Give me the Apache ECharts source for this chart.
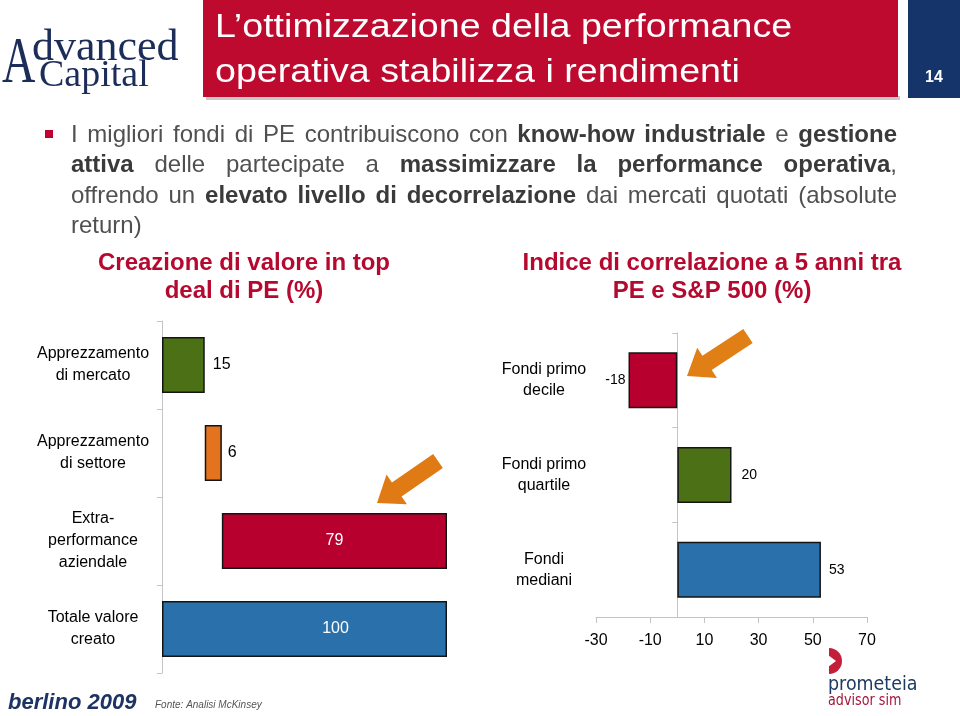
<!DOCTYPE html>
<html><head><meta charset="utf-8">
<script src="https://cdn.jsdelivr.net/npm/echarts@6/dist/echarts.min.js"></script>
<style>html,body{margin:0;padding:0;background:#fff}#c{width:960px;height:716px}</style>
</head><body><div id="c"></div>
<script>
// ---------- data ----------
const leftCategories = ['Apprezzamento\ndi mercato', 'Apprezzamento\ndi settore', 'Extra-\nperformance\naziendale', 'Totale valore\ncreato'];
const leftValues = [15, 6, 79, 100];
const rightCategories = ['Fondi primo\ndecile', 'Fondi primo\nquartile', 'Fondi\nmediani'];
const rightValues = [-18, 20, 53];
const rightAxisMin = -30, rightAxisMax = 70, rightAxisStep = 20;
const titleLines = ['L\u2019ottimizzazione della performance', 'operativa stabilizza i rendimenti'];
const pageNumber = '14';
const bulletLines = [
  'I migliori fondi di PE contribuiscono con *know-how industriale* e *gestione*',
  '*attiva* delle partecipate a *massimizzare la performance operativa*,',
  'offrendo un *elevato livello di decorrelazione* dai mercati quotati (absolute'
];
const bulletLastLine = 'return)';
const leftSubtitle = ['Creazione di valore in top', 'deal di PE (%)'];
const rightSubtitle = ['Indice di correlazione a 5 anni tra', 'PE e S&P 500 (%)'];
const footerSource = 'Fonte: Analisi McKinsey';
const footerEvent = 'berlino 2009';

// ---------- styles ----------
const FONT = "'Liberation Sans', Arial, Helvetica, sans-serif";
const leftColors = ['#4c7015', '#e3731e', '#b8002e', '#2a70aa'];
const rightColors = ['#b8002e', '#4c7015', '#2a70aa'];
const RED = '#bf0a30', NAVY = '#15346a', SUBRED = '#b5092f';

// waterfall bases derived from the values
const lastIdx = leftValues.length - 1;
const leftBase = leftValues.map((v, i) => i === lastIdx ? 0 : leftValues.slice(0, i).reduce((a, b) => a + b, 0));

// ---------- text layout helpers ----------
const mctx = document.createElement('canvas').getContext('2d');
function fontStr(bold, size) { return (bold ? 'bold ' : '') + size + 'px ' + FONT; }
function measure(t, bold, size) { mctx.font = fontStr(bold, size); return mctx.measureText(t).width; }
function parseLine(s) {
  let bold = false; const words = [];
  s.split(' ').forEach(w => {
    const parts = []; let cur = '';
    for (const ch of w) {
      if (ch === '*') { if (cur) parts.push([cur, bold]); cur = ''; bold = !bold; }
      else cur += ch;
    }
    if (cur) parts.push([cur, bold]);
    words.push(parts);
  });
  return words;
}
const graphics = [];
function justifyLine(s, x0, x1, y, size) {
  const words = parseLine(s);
  const widths = words.map(p => p.reduce((a, q) => a + measure(q[0], q[1], size), 0));
  const total = widths.reduce((a, b) => a + b, 0);
  const gap = (x1 - x0 - total) / (words.length - 1);
  let x = x0;
  words.forEach((parts, i) => {
    let xx = x;
    parts.forEach(q => {
      graphics.push({ type: 'text', x: xx, y: y, z: 50, style: { text: q[0], font: fontStr(q[1], size), fill: q[1] ? '#3a3a3a' : '#505050', verticalAlign: 'middle' } });
      xx += measure(q[0], q[1], size);
    });
    x += widths[i] + gap;
  });
}
function arrowPoints(tail, tip, shaftW, headW, headL) {
  const dx = tip[0] - tail[0], dy = tip[1] - tail[1]; const L = Math.hypot(dx, dy);
  const ux = dx / L, uy = dy / L, px = -uy, py = ux;
  const bx = tip[0] - ux * headL, by = tip[1] - uy * headL;
  return [[tail[0] + px * shaftW / 2, tail[1] + py * shaftW / 2], [bx + px * shaftW / 2, by + py * shaftW / 2],
    [bx + px * headW / 2, by + py * headW / 2], tip, [bx - px * headW / 2, by - py * headW / 2],
    [bx - px * shaftW / 2, by - py * shaftW / 2], [tail[0] - px * shaftW / 2, tail[1] - py * shaftW / 2]];
}

// ---------- decorations ----------
graphics.push({ type: 'rect', shape: { x: 206, y: 96, width: 694, height: 4 }, style: { fill: '#c9c9c9' }, z: 1 });
graphics.push({ type: 'rect', shape: { x: 203, y: 0, width: 695, height: 97 }, style: { fill: RED }, z: 2 });
graphics.push({ type: 'rect', shape: { x: 908, y: 0, width: 52, height: 98 }, style: { fill: NAVY }, z: 2 });
graphics.push({ type: 'text', x: 215, y: 28, z: 3, scaleX: 1.14, style: { text: titleLines[0], font: '33px ' + FONT, fill: '#fff', verticalAlign: 'middle' } });
graphics.push({ type: 'text', x: 215, y: 73, z: 3, scaleX: 1.14, style: { text: titleLines[1], font: '33px ' + FONT, fill: '#fff', verticalAlign: 'middle' } });
graphics.push({ type: 'text', x: 934, y: 78, z: 3, style: { text: pageNumber, font: 'bold 16px ' + FONT, fill: '#fff', align: 'center', verticalAlign: 'middle' } });

// Advanced Capital logo
graphics.push({ type: 'text', x: 2, y: 98, z: 3, scaleX: 0.7, style: { text: 'A', font: '66px "Liberation Serif", serif', fill: '#1c2d5a', verticalAlign: 'bottom' } });
graphics.push({ type: 'text', x: 32, y: 70, z: 3, style: { text: 'dvanced', font: '44px "Liberation Serif", serif', fill: '#1c2d5a', verticalAlign: 'bottom' } });
graphics.push({ type: 'text', x: 39, y: 95, z: 3, style: { text: 'Capital', font: '38px "Liberation Serif", serif', fill: '#1c2d5a', verticalAlign: 'bottom' } });

// bullet
graphics.push({ type: 'rect', shape: { x: 45, y: 130, width: 8, height: 8 }, style: { fill: '#c00030' }, z: 3 });
bulletLines.forEach((s, i) => justifyLine(s, 71, 897, 135 + i * 30.6, 24));
graphics.push({ type: 'text', x: 71, y: 135 + 3 * 30.6, z: 50, style: { text: bulletLastLine, font: '24px ' + FONT, fill: '#505050', verticalAlign: 'middle' } });

// subtitles
leftSubtitle.forEach((t, i) => graphics.push({ type: 'text', x: 244, y: 263 + i * 28.5, z: 3, style: { text: t, font: 'bold 24px ' + FONT, fill: SUBRED, align: 'center', verticalAlign: 'middle' } }));
rightSubtitle.forEach((t, i) => graphics.push({ type: 'text', x: 712, y: 263 + i * 28.5, z: 3, style: { text: t, font: 'bold 24px ' + FONT, fill: SUBRED, align: 'center', verticalAlign: 'middle' } }));

// arrows
graphics.push({ type: 'polygon', z: 100, shape: { points: arrowPoints([438, 461], [377, 503], 17, 36, 24) }, style: { fill: '#e07a14' } });
graphics.push({ type: 'polygon', z: 100, shape: { points: arrowPoints([748, 336], [687, 376], 17, 36, 24) }, style: { fill: '#e07f16' } });

// footer
graphics.push({ type: 'text', x: 8, y: 703, z: 3, style: { text: footerEvent, font: 'italic bold 22px ' + FONT, fill: '#1d3363', verticalAlign: 'middle' } });
graphics.push({ type: 'text', x: 155, y: 705, z: 3, style: { text: footerSource, font: 'italic 10px ' + FONT, fill: '#555', verticalAlign: 'middle' } });
// prometeia logo
graphics.push({ type: 'sector', z: 3, shape: { cx: 829, cy: 661, r0: 0, r: 13, startAngle: -Math.PI / 2, endAngle: Math.PI / 2 }, style: { fill: '#c41e3a' } });
graphics.push({ type: 'polygon', z: 4, shape: { points: [[828, 655], [836, 661], [828, 667]] }, style: { fill: '#fff' } });
graphics.push({ type: 'text', x: 828, y: 685, z: 3, scaleX: 0.92, style: { text: 'prometeia', font: '19px "DejaVu Sans", sans-serif', fill: '#1c3a64', verticalAlign: 'middle' } });
graphics.push({ type: 'text', x: 828, y: 701, z: 3, scaleX: 0.85, style: { text: 'advisor sim', font: '15px "DejaVu Sans", sans-serif', fill: '#a5173a', verticalAlign: 'middle' } });

// ---------- chart ----------
const chart = echarts.init(document.getElementById('c'));
const axisGray = '#c4c4c4';
const leftLabelCfg = [
  { position: 'right', distance: 8, color: '#000' },
  { position: 'right', distance: 6, color: '#000' },
  { position: 'inside', color: '#fff' },
  { position: 'inside', color: '#fff', offset: [31, 0] }
];
const rightLabelCfg = [
  { position: 'left', distance: 3 },
  { position: 'right', distance: 10 },
  { position: 'right', distance: 8 }
];
const option = {
  animation: false,
  backgroundColor: '#fff',
  textStyle: { fontFamily: FONT },
  graphic: graphics,
  grid: [
    { left: 162, top: 321, width: 285, height: 352, containLabel: false },
    { left: 596, top: 333, width: 271, height: 284, containLabel: false }
  ],
  xAxis: [
    { gridIndex: 0, type: 'value', min: 0, max: 100, show: false },
    { gridIndex: 1, type: 'value', min: rightAxisMin, max: rightAxisMax, interval: rightAxisStep,
      axisLine: { show: true, onZero: false, lineStyle: { color: axisGray } },
      axisTick: { show: true, length: 6, lineStyle: { color: axisGray } },
      splitLine: { show: false },
      axisLabel: { color: '#000', fontSize: 16, margin: 16, fontFamily: FONT } }
  ],
  yAxis: [
    { gridIndex: 0, type: 'category', inverse: true, data: leftCategories,
      axisLine: { show: true, onZero: false, lineStyle: { color: axisGray } },
      axisTick: { show: true, length: 5, lineStyle: { color: axisGray } },
      axisLabel: { color: '#000', fontSize: 16, lineHeight: 22, align: 'center', margin: 69, fontFamily: FONT } },
    { gridIndex: 1, type: 'category', inverse: true, data: rightCategories, position: 'left',
      axisLine: { show: false, onZero: false }, axisTick: { show: false },
      axisLabel: { color: '#000', fontSize: 16, lineHeight: 21, align: 'center', margin: 52, fontFamily: FONT } },
    { gridIndex: 1, type: 'category', inverse: true, data: rightCategories, position: 'left',
      axisLine: { show: true, onZero: true, lineStyle: { color: axisGray } },
      axisTick: { show: true, length: 5, lineStyle: { color: axisGray } },
      axisLabel: { show: false } }
  ],
  series: [
    { type: 'bar', xAxisIndex: 0, yAxisIndex: 0, stack: 'wf', barWidth: 56, silent: true,
      itemStyle: { color: 'rgba(0,0,0,0)', borderWidth: 0 }, data: leftBase },
    { type: 'bar', xAxisIndex: 0, yAxisIndex: 0, stack: 'wf', barWidth: 56,
      data: leftValues.map((v, i) => ({
        value: v,
        itemStyle: { color: leftColors[i], borderColor: '#141414', borderWidth: 1.5 },
        label: Object.assign({ show: true, fontSize: 16, fontFamily: FONT }, leftLabelCfg[i])
      })) },
    { type: 'bar', xAxisIndex: 1, yAxisIndex: 1, barWidth: 56,
      data: rightValues.map((v, i) => ({
        value: v,
        itemStyle: { color: rightColors[i], borderColor: '#141414', borderWidth: 1.5 },
        label: Object.assign({ show: true, fontSize: 14, color: '#000', fontFamily: FONT }, rightLabelCfg[i])
      })) }
  ]
};
chart.setOption(option);
</script>
</body></html>
